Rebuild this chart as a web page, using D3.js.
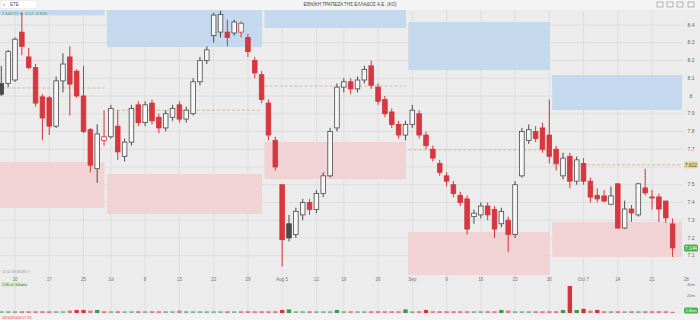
<!DOCTYPE html>
<html>
<head>
<meta charset="utf-8">
<script src="https://cdn.jsdelivr.net/npm/d3@7"></script>
<style>
  body { margin: 0; background: #ececec; }
  svg { display: block; font-family: "Liberation Sans", Arial, sans-serif; }
</style>
</head>
<body>
<div id="chart"></div>
<script>
// trading days (2024), plus a few empty future slots at the right
var days = ["06-06","06-07","06-10","06-11","06-12","06-13","06-14","06-17","06-18","06-19","06-20","06-21","06-25","06-26","06-27","06-28",
  "07-01","07-02","07-03","07-04","07-05","07-08","07-09","07-10","07-11","07-12","07-15","07-16","07-17","07-18","07-19","07-22","07-23","07-24","07-25","07-26","07-29","07-30","07-31",
  "08-01","08-02","08-05","08-06","08-07","08-08","08-09","08-12","08-13","08-14","08-16","08-19","08-20","08-21","08-22","08-23","08-26","08-27","08-28","08-29","08-30",
  "09-02","09-03","09-04","09-05","09-06","09-09","09-10","09-11","09-12","09-13","09-16","09-17","09-18","09-19","09-20","09-23","09-24","09-25","09-26","09-27","09-30",
  "10-01","10-02","10-03","10-04","10-07","10-08","10-09","10-10","10-11","10-14","10-15","10-16","10-17","10-18","10-21","10-22","10-23","10-24"];
var futureDays = ["10-25","10-28","10-29"];

var open = [8.07,8.07,8.09,8.36,8.22,8.16,7.995,7.99,7.83,8.085,8.22,8.14,8.0,7.81,7.59,7.75,
  7.77,7.83,7.66,7.74,7.95,7.85,7.96,7.88,7.82,7.88,7.95,7.87,7.90,8.08,8.20,8.34,8.36,8.36,8.355,8.36,8.33,8.20,8.12,
  7.96,7.75,7.50,7.28,7.22,7.33,7.40,7.36,7.45,7.55,7.82,8.05,8.08,8.04,8.09,8.17,8.05,7.98,7.91,7.84,7.78,
  7.84,7.90,7.78,7.70,7.62,7.55,7.50,7.44,7.42,7.32,7.33,7.38,7.36,7.28,7.30,7.22,7.55,7.75,7.80,7.82,7.78,
  7.70,7.55,7.66,7.52,7.62,7.52,7.44,7.437,7.39,7.505,7.256,7.363,7.33,7.482,7.431,7.431,7.408,7.279];
var high = [8.17,8.26,8.33,8.47,8.27,8.18,8.01,8.0,8.11,8.24,8.28,8.15,8.17,7.82,7.84,7.92,
  7.95,7.92,7.76,7.95,7.97,7.97,7.98,7.90,7.92,7.95,7.97,7.94,8.10,8.22,8.28,8.47,8.48,8.43,8.43,8.42,8.35,8.22,8.14,
  7.98,7.77,7.50,7.33,7.37,7.42,7.42,7.47,7.57,7.82,8.07,8.10,8.10,8.11,8.17,8.20,8.07,8.00,7.93,7.86,7.86,
  7.95,7.92,7.80,7.72,7.64,7.57,7.52,7.46,7.44,7.36,7.40,7.40,7.38,7.37,7.32,7.52,7.82,7.84,7.83,7.85,7.98,
  7.72,7.68,7.68,7.66,7.65,7.54,7.48,7.47,7.49,7.51,7.41,7.386,7.51,7.59,7.47,7.45,7.41,7.31];
var low = [8.00,8.05,8.08,8.23,8.15,7.94,7.75,7.78,7.82,8.02,7.89,7.99,7.79,7.57,7.51,7.72,
  7.76,7.64,7.63,7.72,7.83,7.83,7.84,7.79,7.80,7.86,7.85,7.85,7.89,8.06,8.18,8.30,8.33,8.28,8.34,8.33,8.22,8.10,7.96,
  7.75,7.58,7.04,7.18,7.20,7.30,7.33,7.34,7.43,7.54,7.80,8.02,8.01,8.02,8.07,8.04,7.95,7.88,7.82,7.76,7.75,
  7.82,7.76,7.70,7.63,7.55,7.49,7.43,7.38,7.22,7.28,7.31,7.30,7.20,7.26,7.12,7.20,7.54,7.73,7.74,7.68,7.62,
  7.58,7.53,7.48,7.50,7.50,7.40,7.40,7.40,7.385,7.25,7.25,7.29,7.32,7.44,7.36,7.29,7.285,7.093];
var close = [8.01,8.25,8.32,8.28,8.16,7.96,7.876,7.83,8.085,8.18,8.067,8.0,7.80,7.61,7.786,7.77,
  7.93,7.685,7.74,7.93,7.85,7.95,7.86,7.82,7.90,7.93,7.87,7.92,8.08,8.20,8.26,8.456,8.46,8.33,8.417,8.41,8.25,8.13,7.98,
  7.78,7.60,7.19,7.20,7.35,7.40,7.36,7.45,7.55,7.80,8.05,8.08,8.04,8.09,8.15,8.06,7.97,7.90,7.84,7.78,7.84,
  7.92,7.78,7.72,7.65,7.57,7.52,7.45,7.40,7.25,7.34,7.38,7.33,7.25,7.35,7.22,7.50,7.80,7.81,7.76,7.70,7.66,
  7.62,7.65,7.52,7.64,7.52,7.43,7.42,7.408,7.437,7.256,7.363,7.341,7.505,7.454,7.426,7.363,7.313,7.144];
// volume, millions of shares
var volume = [3,3,3,3,3,3,3,3,3,3, 4,5,5,4,5,3,3,3,3,3, 3,3,3,3,3,3,4,3,3,3, 3,3,3,3,3,3,3,3,3,3,
  3,5,6,3,3,3,3,3,3,5, 3,3,3,3,3,3,3,3,3,6, 3,3,5,3,3,3,3,3,3,3, 3,3,3,5,4,3,3,3,3,3,
  3,3,5,45,5,7,4,5,3,3, 3,3,3,3,3,3,3,3,2];

// monthly zones: first day, last day, resistance band, support band, pivot line
var zoneStart = ["06-06","07-01","08-01","09-02","10-01"];
var zoneEnd   = ["06-28","07-31","08-30","09-30","10-29"];
var zoneHigh  = [[8.455,8.6],[8.276,8.6],[8.383,8.6],[8.146,8.417],[7.921,8.118]];
var zoneLow   = [[7.369,7.628],[7.335,7.56],[7.532,7.741],[6.99,7.234],[7.093,7.29]];
var zonePivot = [8.045,7.92,8.056,7.696,7.612];

var priceTicks = [8.4,8.3,8.2,8.1,8.0,7.9,7.8,7.7,7.6,7.5,7.4,7.3,7.2,7.1];
var tickDays   = ["06-10","06-17","06-25","07-01","07-08","07-15","07-22","07-29","08-05","08-12","08-19","08-26","09-02","09-09","09-16","09-23","09-30","10-07","10-14","10-21","10-28"];
var tickLabels = ["10","17","25","Jul","8","15","22","29","Aug 5","12","19","26","Sep","9","16","23","30","Oct 7","14","21","28"];

var W = 700, H = 320;
var plotRight = 683, plotTop = 10, plotBottom = 275;

var svg = d3.select("#chart").append("svg").attr("width", W).attr("height", H);

svg.append("rect").attr("width", W).attr("height", H).attr("fill", "#ececec");

var step = 6.85;
var allDays = days.concat(futureDays);
var x = d3.scaleBand().domain(allDays)
  .range([1.3 - step / 2, 1.3 - step / 2 + step * allDays.length]).padding(0);
var cx = function(d) { return x(d) + x.bandwidth() / 2; };

var y = d3.scaleLinear().domain([7.1, 8.4]).range([255.7, 25]);
var yv = d3.scaleLinear().domain([0, 50]).range([313, 283]);

var defs = svg.append("defs");
defs.append("clipPath").attr("id", "plot-clip")
  .append("rect").attr("x", 0).attr("y", plotTop).attr("width", plotRight).attr("height", plotBottom - plotTop);

// grid
var grid = svg.append("g");
grid.selectAll(".vg").data(tickDays.filter(function(d) { return cx(d) < plotRight; }))
  .enter().append("line")
  .attr("x1", cx).attr("x2", cx).attr("y1", plotTop).attr("y2", 314)
  .attr("stroke", "#dadada").attr("stroke-width", 0.8);
grid.selectAll(".hg").data(priceTicks).enter().append("line")
  .attr("x1", 0).attr("x2", plotRight).attr("y1", y).attr("y2", y)
  .attr("stroke", "#dadada").attr("stroke-width", 0.8);

var plot = svg.append("g").attr("clip-path", "url(#plot-clip)");

// zones
var zones = zoneStart.map(function(s, i) {
  var x0 = cx(s) - 4;
  var x1 = i == zoneStart.length - 1 ? plotRight - 1 : cx(zoneEnd[i]) + 0.5;
  return { x0: x0, x1: x1, hi: zoneHigh[i], lo: zoneLow[i], pivot: zonePivot[i] };
});
plot.selectAll(".zh").data(zones).enter().append("rect")
  .attr("x", function(d) { return d.x0; })
  .attr("width", function(d) { return d.x1 - d.x0; })
  .attr("y", function(d) { return y(d.hi[1]); })
  .attr("height", function(d) { return y(d.hi[0]) - y(d.hi[1]); })
  .attr("fill", "#c4d8ee");
plot.selectAll(".zl").data(zones).enter().append("rect")
  .attr("x", function(d) { return d.x0; })
  .attr("width", function(d) { return d.x1 - d.x0; })
  .attr("y", function(d) { return y(d.lo[1]); })
  .attr("height", function(d) { return y(d.lo[0]) - y(d.lo[1]); })
  .attr("fill", "#f1d3d5");
plot.selectAll(".zp").data(zones).enter().append("line")
  .attr("x1", function(d) { return d.x0; })
  .attr("x2", function(d) { return d.x1; })
  .attr("y1", function(d) { return y(d.pivot); })
  .attr("y2", function(d) { return y(d.pivot); })
  .attr("stroke", "#c9b98a").attr("stroke-width", 0.9).attr("stroke-dasharray", "3,2");

// candles
var candles = days.map(function(d, i) {
  var prev = i > 0 ? close[i - 1] : close[i];
  return { day: d, o: open[i], h: high[i], l: low[i], c: close[i], up: close[i] >= open[i], gain: close[i] >= prev, v: volume[i] };
});
var candleStroke = function(d) { return d.gain ? "#4a4a4a" : "#d3343c"; };
var candleFill = function(d) {
  if (d.up) return "#f7f7f7";
  return d.gain ? "#4a4a4a" : "#d9363e";
};
var bw = 4.6;
var cg = plot.selectAll(".candle").data(candles).enter().append("g");
cg.append("line")
  .attr("x1", function(d) { return cx(d.day); }).attr("x2", function(d) { return cx(d.day); })
  .attr("y1", function(d) { return y(d.h); }).attr("y2", function(d) { return y(d.l); })
  .attr("stroke", candleStroke).attr("stroke-width", 1);
cg.append("rect")
  .attr("x", function(d) { return cx(d.day) - bw / 2; })
  .attr("width", bw)
  .attr("y", function(d) { return y(Math.max(d.o, d.c)); })
  .attr("height", function(d) { return Math.max(1, Math.abs(y(d.o) - y(d.c))); })
  .attr("fill", candleFill).attr("stroke", candleStroke).attr("stroke-width", 0.8);

// volume bars
svg.selectAll(".vol").data(candles).enter().append("rect")
  .attr("x", function(d) { return cx(d.day) - 2.2; })
  .attr("width", 4.4)
  .attr("y", function(d) { return yv(d.v); })
  .attr("height", function(d) { return 313 - yv(d.v); })
  .attr("fill", function(d) { return d.gain ? "#3f9a4f" : "#d5343c"; })
  .attr("fill-opacity", function(d) { return d.v > 4 ? 1 : 0.6; });

// pivot + last price tags
var lastPrice = close[close.length - 1];
var pivotNow = zonePivot[zonePivot.length - 1];
var tags = [{ p: pivotNow, fill: "#e5d59a", color: "#5a4e20" }, { p: lastPrice, fill: "#4caf50", color: "#fff" }];

// price axis labels, skipping the ones hidden behind a tag
svg.selectAll(".pl").data(priceTicks.filter(function(t) {
    return tags.every(function(g) { return Math.abs(y(t) - y(g.p)) > 5; });
  })).enter().append("text")
  .attr("x", 691).attr("y", function(d) { return y(d) + 1.7; })
  .attr("text-anchor", "middle").attr("font-size", 5).attr("fill", "#666")
  .text(function(d) { return d3.format("")(d); });

svg.selectAll(".tagbox").data(tags).enter().append("rect")
  .attr("x", 684).attr("y", function(d) { return y(d.p) - 3.5; })
  .attr("width", 14).attr("height", 7).attr("rx", 1.5)
  .attr("fill", function(d) { return d.fill; });
svg.selectAll(".tagtext").data(tags).enter().append("text")
  .attr("x", 691).attr("y", function(d) { return y(d.p) + 1.7; })
  .attr("text-anchor", "middle").attr("font-size", 4.8)
  .attr("fill", function(d) { return d.color; })
  .text(function(d) { return d.p.toFixed(3); });

// date axis labels
svg.selectAll(".xl").data(tickDays).enter().append("text")
  .attr("x", cx).attr("y", 280.5)
  .attr("text-anchor", "middle").attr("font-size", 4.6).attr("fill", "#777")
  .text(function(d, i) { return tickLabels[i]; });

// header bar
svg.append("rect").attr("width", W).attr("height", plotTop).attr("fill", "#f4f4f4");
svg.append("rect").attr("x", 1).attr("y", 0.5).attr("width", 36).attr("height", 8).attr("fill", "#fff").attr("stroke", "#ddd").attr("stroke-width", 0.5);
svg.append("text").attr("x", 3).attr("y", 6.3).attr("font-size", 6).attr("fill", "#666").text("‹");
svg.append("text").attr("x", 10).attr("y", 6).attr("font-size", 4.5).attr("fill", "#555").text("ETE");
svg.append("text").attr("x", 350).attr("y", 6.2).attr("text-anchor", "middle").attr("font-size", 4.6).attr("fill", "#444")
  .text("ΕΘΝΙΚΗ ΤΡΑΠΕΖΑ ΤΗΣ ΕΛΛΑΔΟΣ Α.Ε. (ΚΟ)");
var icons = [657, 667, 677, 688];
svg.selectAll(".ic").data(icons).enter().append("rect")
  .attr("x", function(d) { return d; }).attr("y", 2).attr("width", 6).attr("height", 5)
  .attr("fill", "none").attr("stroke", "#888").attr("stroke-width", 0.6);

// last price summary top-left
svg.append("text").attr("x", 2).attr("y", 14.6).attr("font-size", 4).attr("fill", "#4a8a4a")
  .text(lastPrice.toFixed(3) + " (T)  ▼ -0.17 -2.33%");

// period buttons + volume caption
svg.append("text").attr("x", 2).attr("y", 273).attr("font-size", 3).attr("fill", "#999").text("1D 5D 1M 3M 6M 1Y");
svg.append("rect").attr("x", 1).attr("y", 282).attr("width", 25).attr("height", 5).attr("fill", "#dbe9d3");
svg.append("text").attr("x", 2).attr("y", 285.8).attr("font-size", 3.8).attr("fill", "#3f7f3f").text("2,80 m Volume");

// volume axis
svg.append("text").attr("x", 691).attr("y", 286).attr("text-anchor", "middle").attr("font-size", 4.2).attr("fill", "#777").text("40m");
svg.append("text").attr("x", 691).attr("y", 297).attr("text-anchor", "middle").attr("font-size", 4.2).attr("fill", "#777").text("20m");
svg.append("rect").attr("x", 684).attr("y", 307.5).attr("width", 14).attr("height", 6).attr("rx", 1.5).attr("fill", "#4caf50");
svg.append("text").attr("x", 691).attr("y", 312).attr("text-anchor", "middle").attr("font-size", 4.2).attr("fill", "#fff").text("2,80m");

// footer
svg.append("rect").attr("y", 314).attr("width", W).attr("height", 6).attr("fill", "#f2f2f2");
svg.append("text").attr("x", 2).attr("y", 318.5).attr("font-size", 3.8).attr("fill", "#d9363e").text("24/10/2024 17:25");
</script>
</body>
</html>
